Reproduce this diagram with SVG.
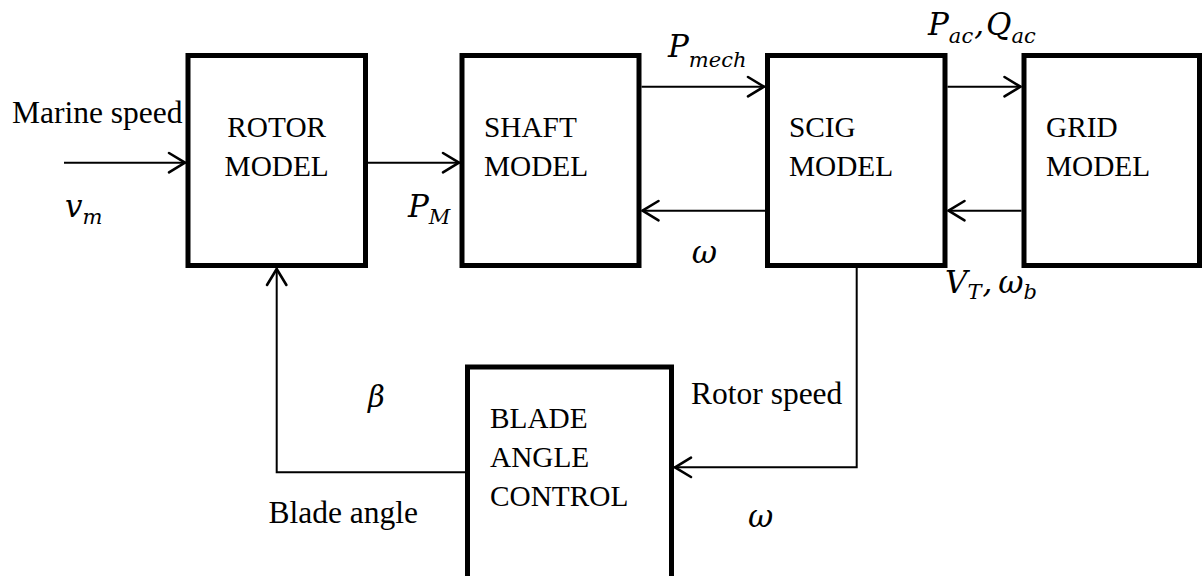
<svg xmlns="http://www.w3.org/2000/svg" width="1202" height="576" viewBox="0 0 1202 576">
<style>
.box{fill:#fff;stroke:#000;stroke-width:5}
.ln{fill:none;stroke:#000;stroke-width:2}
.bl{font-family:"Liberation Serif","Times New Roman",serif;font-size:29.3px;fill:#000}
.lb{font-family:"Liberation Serif","Times New Roman",serif;font-size:31.5px;fill:#000}
.m{font-family:"DejaVu Serif",serif;font-style:italic;font-size:31px;fill:#000}
.s{font-size:21px}
</style>
<defs>
<marker id="ah" markerUnits="userSpaceOnUse" markerWidth="24" markerHeight="24" viewBox="-20 -12 22 24" refX="0" refY="0" orient="auto">
<path d="M-17,-9.7 L-1,0 L-17,9.7" fill="none" stroke="#000" stroke-width="2.6" stroke-linecap="round" stroke-linejoin="round"/>
</marker>
</defs>
<rect width="1202" height="576" fill="#fff"/>
<g id="connectors">
<path class="ln" d="M64,162.7 H186" marker-end="url(#ah)"/>
<path class="ln" d="M368,162.7 H460" marker-end="url(#ah)"/>
<path class="ln" d="M641.5,86.7 H765" marker-end="url(#ah)"/>
<path class="ln" d="M765,210.7 H641.5" marker-end="url(#ah)"/>
<path class="ln" d="M947.5,86.7 H1021.5" marker-end="url(#ah)"/>
<path class="ln" d="M1021.5,210.7 H947.5" marker-end="url(#ah)"/>
<path class="ln" d="M856.7,268 V467.3 H674" marker-end="url(#ah)"/>
<path class="ln" d="M465,472.3 H276.7 V268" marker-end="url(#ah)"/>
</g>
<g id="rotor">
<rect class="box" x="188" y="55.5" width="177.5" height="210"/>
<text class="bl" x="276.7" y="136.7" text-anchor="middle">ROTOR</text>
<text class="bl" x="276.7" y="175.5" text-anchor="middle">MODEL</text>
</g>
<g id="shaft">
<rect class="box" x="462" y="55.5" width="177" height="210"/>
<text class="bl" x="484" y="137">SHAFT</text>
<text class="bl" x="484" y="175.5">MODEL</text>
</g>
<g id="scig">
<rect class="box" x="767.5" y="55.5" width="177.5" height="210"/>
<text class="bl" x="789" y="137">SCIG</text>
<text class="bl" x="789" y="175.5">MODEL</text>
</g>
<g id="grid">
<rect class="box" x="1024" y="55.5" width="175.5" height="210"/>
<text class="bl" x="1046" y="136.5">GRID</text>
<text class="bl" x="1046" y="175.5">MODEL</text>
</g>
<g id="blade">
<rect class="box" x="467.5" y="367" width="204" height="240"/>
<text class="bl" x="490" y="428.3">BLADE</text>
<text class="bl" x="490" y="466.7">ANGLE</text>
<text class="bl" x="490" y="505.7">CONTROL</text>
</g>
<g id="labels">
<text class="lb" x="12" y="123">Marine speed</text>
<text class="lb" x="691" y="404">Rotor speed</text>
<text class="lb" x="268.5" y="522.5">Blade angle</text>
<text class="m" x="65" y="217">v<tspan class="s" dy="6.5">m</tspan></text>
<text class="m" x="408" y="216.7">P<tspan class="s" dy="7.3">M</tspan></text>
<text class="m" x="668" y="56.7">P<tspan class="s" dy="9.8">mech</tspan></text>
<text class="m" x="691.7" y="263.3">ω</text>
<text class="m" x="928" y="35">P<tspan class="s" dy="7.5">ac</tspan><tspan dx="1" dy="-7.5">,</tspan><tspan dx="2">Q</tspan><tspan class="s" dy="7.5">ac</tspan></text>
<text class="m" x="945" y="293.3">V<tspan class="s" dy="5.7">T</tspan><tspan dx="1" dy="-5.7">,</tspan><tspan dx="6">ω</tspan><tspan class="s" dy="5.7">b</tspan></text>
<text class="m" x="368" y="407" style="font-size:29px">β</text>
<text class="m" x="748" y="526.5">ω</text>
</g>
</svg>
